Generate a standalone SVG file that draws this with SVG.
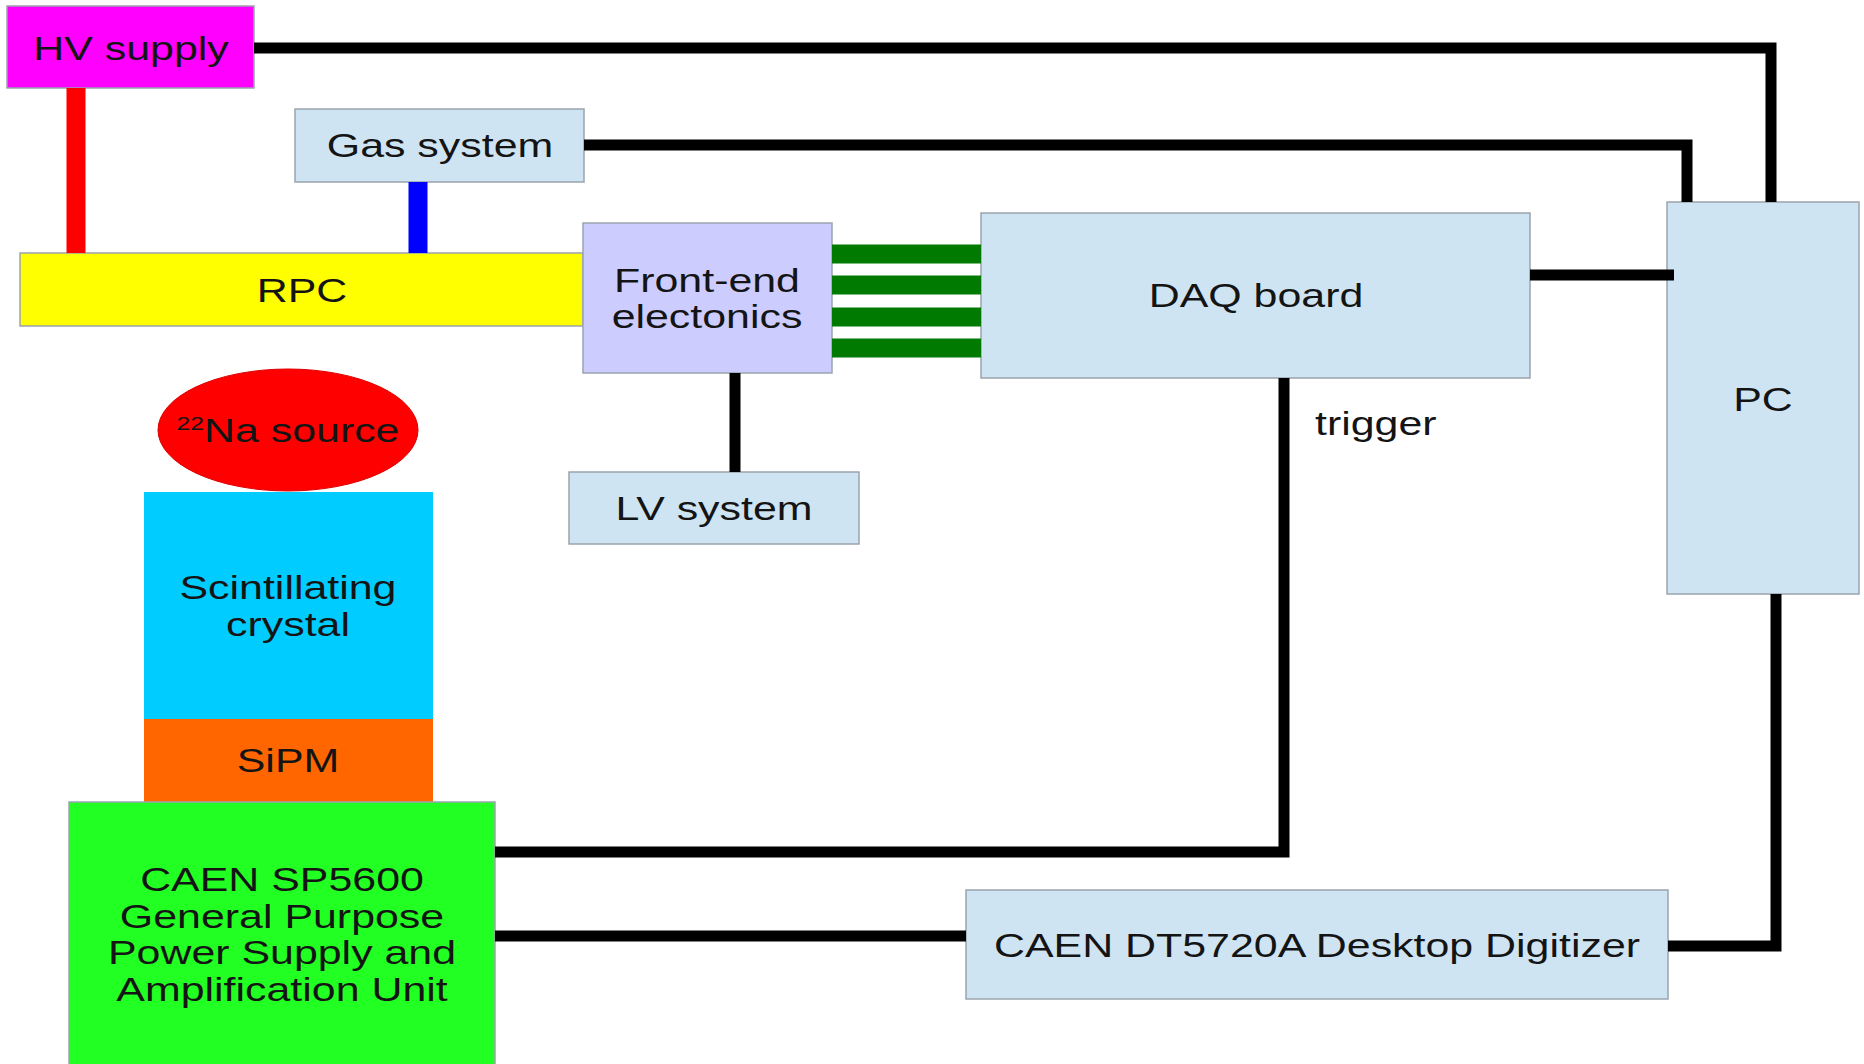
<svg xmlns="http://www.w3.org/2000/svg" width="1864" height="1064" viewBox="0 0 1864 1064">
  <style>
    .box { stroke: #9aa4ad; stroke-width: 1.5; }
    .blue { fill: #cfe4f2; }
    .t { font-family: "Liberation Sans", Arial, sans-serif; font-size: 33px; fill: #141414; text-anchor: middle; }
    .wire { fill: none; stroke: #000; stroke-width: 11; stroke-linejoin: miter; stroke-linecap: butt; }
    .bus { fill: none; stroke: #007a00; stroke-width: 19; }
  </style>
  <rect width="1864" height="1064" fill="#fff"/>

  <g id="hv-supply">
    <rect class="box" x="7" y="6" width="247" height="82" fill="#ff00ff"/>
    <text class="t" transform="translate(131 60) scale(1.3 1)">HV supply</text>
  </g>

  <g id="gas-system">
    <rect class="box blue" x="295" y="109" width="289" height="73"/>
    <text class="t" transform="translate(440 157) scale(1.3 1)">Gas system</text>
  </g>

  <g id="rpc">
    <rect class="box" x="20" y="253" width="563" height="73" fill="#ffff00"/>
    <text class="t" transform="translate(302 302) scale(1.3 1)">RPC</text>
  </g>

  <g id="front-end">
    <rect class="box" x="583" y="223" width="249" height="150" fill="#ccccff"/>
    <text class="t" transform="translate(707 292) scale(1.3 1)">Front-end<tspan x="0" dy="36">electonics</tspan></text>
  </g>

  <g id="daq-board">
    <rect class="box blue" x="981" y="213" width="549" height="165"/>
    <text class="t" transform="translate(1256 307) scale(1.3 1)">DAQ board</text>
  </g>

  <g id="pc">
    <rect class="box blue" x="1667" y="202" width="192" height="392"/>
    <text class="t" transform="translate(1763 411) scale(1.3 1)">PC</text>
  </g>

  <g id="lv-system">
    <rect class="box blue" x="569" y="472" width="290" height="72"/>
    <text class="t" transform="translate(714 520) scale(1.3 1)">LV system</text>
  </g>

  <g id="na-source">
    <ellipse cx="288" cy="430" rx="130" ry="61" fill="#ff0000" stroke="#d00" stroke-width="1"/>
    <text class="t" transform="translate(288 442) scale(1.3 1)"><tspan font-size="19" dy="-12">22</tspan><tspan dy="12">Na source</tspan></text>
  </g>

  <g id="crystal">
    <rect x="144" y="492" width="289" height="227" fill="#00ccff"/>
    <text class="t" transform="translate(288 599) scale(1.3 1)">Scintillating<tspan x="0" dy="37">crystal</tspan></text>
  </g>

  <g id="sipm">
    <rect x="144" y="719" width="289" height="83" fill="#ff6600"/>
    <text class="t" transform="translate(288 772) scale(1.3 1)">SiPM</text>
  </g>

  <g id="sp5600">
    <rect class="box" x="69" y="802" width="426" height="270" fill="#22ff22"/>
    <text class="t" transform="translate(282 891) scale(1.3 1)">CAEN SP5600<tspan x="0" dy="36.7">General Purpose</tspan><tspan x="0" dy="36.7">Power Supply and</tspan><tspan x="0" dy="36.7">Amplification Unit</tspan></text>
  </g>

  <g id="dt5720a">
    <rect class="box blue" x="966" y="890" width="702" height="109"/>
    <text class="t" transform="translate(1317 957) scale(1.3 1)">CAEN DT5720A Desktop Digitizer</text>
  </g>

  <text class="t" style="text-anchor:start" transform="translate(1315 435) scale(1.3 1)">trigger</text>

  <g id="connectors">
    <!-- supply and gas feeds into the RPC -->
    <path d="M76 88 V253" stroke="#ff0000" stroke-width="19" fill="none"/>
    <path d="M418 182 V253" stroke="#0000ff" stroke-width="19" fill="none"/>
    <!-- readout bus between front-end and DAQ -->
    <path class="bus" d="M832 254 H981 M832 285 H981 M832 317 H981 M832 348 H981"/>
    <!-- control and data lines -->
    <path class="wire" d="M254 48 H1771 V202"/>
    <path class="wire" d="M584 145 H1687 V202"/>
    <path class="wire" d="M1530 275 H1674"/>
    <path class="wire" d="M735 373 V472" stroke-width="12"/>
    <path class="wire" d="M1284 378 V852 H495"/>
    <path class="wire" d="M495 936 H966"/>
    <path class="wire" d="M1668 946 H1776 V594" stroke-width="12"/>
  </g>
</svg>
